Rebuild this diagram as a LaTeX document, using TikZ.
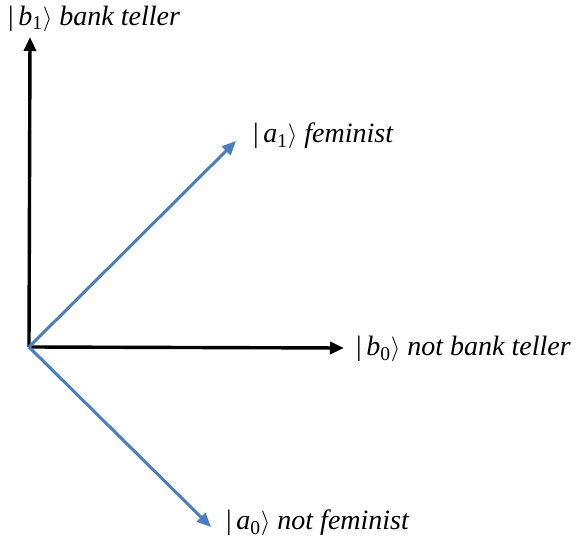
\documentclass[tikz,border=0pt]{standalone}
\usepackage{fontspec}
\setmainfont{Liberation Serif}
\usetikzlibrary{arrows.meta}
\definecolor{vecblue}{RGB}{74,126,193}
\newcommand{\myket}[2]{{\upshape|}\,\textit{#1}\textsubscript{\upshape #2}$\rangle$}
\begin{document}
\begin{tikzpicture}[x=1pt,y=-1pt,
  axis/.style={line width=3.4pt,black,-{Triangle[length=14pt,width=12pt]}},
  vec/.style={line width=3pt,vecblue,-{Triangle[length=14pt,width=12pt]}},
  lbl/.style={anchor=west,inner sep=0pt,font=\fontsize{28}{32}\selectfont\itshape}]
\useasboundingbox (0,0) rectangle (584,545);
\coordinate (o) at (29,347);
\coordinate (b1) at (30,37);
\coordinate (b0) at (344,348);
\coordinate (a1) at (236,141);
\coordinate (a0) at (211,527);
\node[lbl] (lb1) at (8,19) {\myket{b}{1} bank teller};
\node[lbl] (la1) at (253,136) {\myket{a}{1} feminist};
\node[lbl] (lb0) at (356,349) {\myket{b}{0} not bank teller};
\node[lbl] (la0) at (226,523) {\myket{a}{0} not feminist};
\draw[axis] (o) -- (b1);
\draw[axis] (o) -- (b0);
\draw[vec] (o) -- (a1);
\draw[vec] (o) -- (a0);
\end{tikzpicture}
\end{document}
